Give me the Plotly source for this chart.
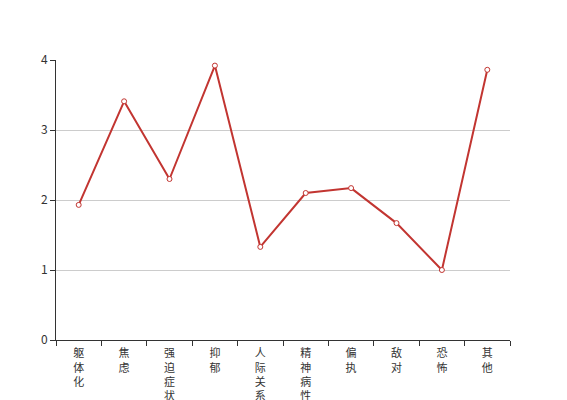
import plotly.graph_objects as go

categories = ['躯体化', '焦虑', '强迫症状', '抑郁', '人际关系敏感', '精神病性', '偏执', '敌对', '恐怖', '其他']
values = [1.93, 3.41, 2.30, 3.92, 1.33, 2.10, 2.17, 1.67, 1.00, 3.86]

red = '#c23531'
font_family = 'Noto Sans CJK SC, Noto Sans, sans-serif'

# vertical labels: one character per line
tick_text = ['<br>'.join(list(c)) for c in categories]

fig = go.Figure()
fig.add_trace(go.Scatter(
    x=categories, y=values, mode='lines+markers',
    line=dict(color=red, width=2),
    marker=dict(symbol='circle', size=5, color='white', line=dict(color=red, width=1)),
    showlegend=False, hoverinfo='x+y'
))

# page body has an 8px margin, so offsets are compensated here
fig.update_layout(
    width=567, height=400,
    margin=dict(l=48, r=65, t=52, b=68),
    paper_bgcolor='white', plot_bgcolor='white',
    font=dict(family=font_family, size=12, color='#333'),
)
fig.update_xaxes(
    type='category', tickmode='array', tickvals=categories, ticktext=tick_text,
    range=[-0.5, len(categories) - 0.5],
    tickson='boundaries', ticks='outside', ticklen=5, tickcolor='#333',
    showline=True, linecolor='#333', linewidth=1, showgrid=False,
    tickfont=dict(size=11, color='#333'), tickangle=0, automargin=False,
    ticklabelstandoff=3,
)
fig.update_yaxes(
    range=[0, 4], dtick=1, ticks='outside', ticklen=5, tickcolor='#333',
    showline=True, linecolor='#333', linewidth=1,
    showgrid=True, gridcolor='#ccc', gridwidth=1, zeroline=False,
    tickfont=dict(size=12, color='#333'), automargin=False,
)

fig.write_html("out.html")
